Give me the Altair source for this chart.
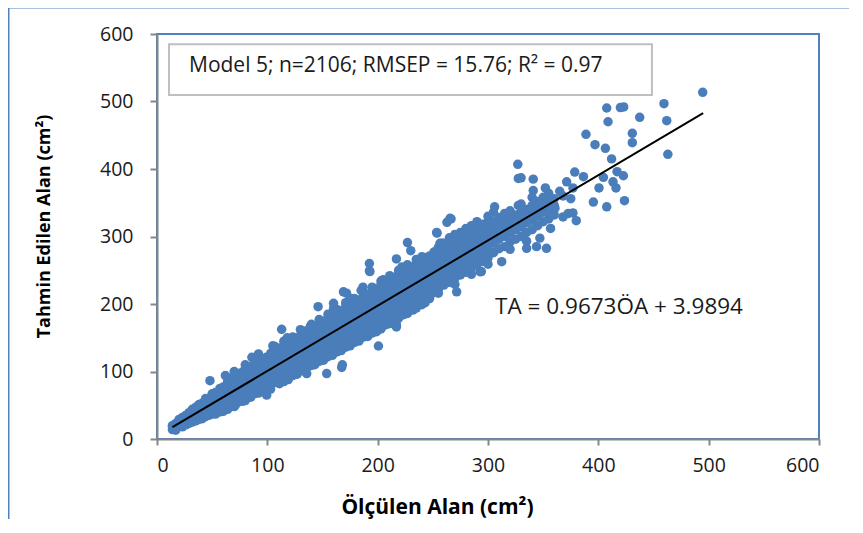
import altair as alt
import pandas as pd

# ---- scatter data (Ölçülen Alan vs Tahmin Edilen Alan) ----
seg1_x = [14, 17, 20, 23, 26, 29, 32, 35, 38, 41, 44, 47, 50]
seg1_y = [[14, 18, 20], [16, 21, 23, 13], [19, 22, 27, 29], [20, 25, 28, 32, 18],
          [24, 27, 32, 35, 21], [25, 31, 34, 39, 23], [28, 32, 38, 41, 25, 44],
          [29, 35, 39, 45, 27, 47], [32, 36, 42, 46, 51, 29], [33, 40, 44, 50, 53, 30],
          [37, 41, 48, 52, 58, 33, 60], [38, 45, 50, 56, 60, 35], [41, 46, 53, 58, 64, 37, 67]]

seg2_x = [53, 57, 60, 64, 67, 71, 74, 78, 81, 85, 88, 92, 95, 99]
seg2_y = [[42, 46, 54, 58, 66, 69, 37], [43, 52, 56, 64, 68, 75, 40],
          [47, 52, 61, 65, 73, 77, 44], [47, 56, 61, 69, 74, 82, 85, 44],
          [52, 57, 66, 70, 79, 83, 48, 90], [53, 62, 67, 76, 81, 89, 50, 92],
          [58, 63, 72, 77, 86, 90, 55, 97], [59, 68, 73, 82, 87, 96, 56, 100],
          [63, 69, 78, 83, 92, 97, 61, 105], [65, 74, 80, 89, 94, 103, 62, 107],
          [69, 75, 85, 90, 99, 104, 67, 112], [71, 81, 86, 96, 101, 110, 68, 114],
          [76, 82, 91, 97, 106, 111, 73, 119], [77, 87, 93, 103, 108, 117, 74, 121]]

seg3_x = [103, 107, 111, 115, 119, 123, 127, 131, 135, 139, 143, 147, 151,
          155, 159, 163, 167, 171, 175, 179, 183, 187, 191, 195, 199]
seg3_y = [[79, 90, 97, 105, 111, 121, 127, 74], [84, 92, 101, 106, 116, 122, 132, 137],
          [87, 94, 104, 110, 118, 128, 134, 82], [91, 98, 108, 116, 122, 130, 140, 85, 145],
          [93, 104, 110, 120, 126, 136, 142, 88], [99, 105, 116, 122, 132, 138, 148, 94, 151],
          [100, 111, 117, 128, 134, 144, 150, 96], [106, 113, 123, 130, 140, 146, 156, 101, 159],
          [107, 118, 125, 136, 142, 150, 160, 103], [113, 120, 131, 137, 147, 154, 164, 109, 167],
          [114, 125, 132, 143, 149, 159, 166, 110], [120, 127, 138, 145, 155, 161, 172, 115, 177],
          [121, 132, 139, 151, 157, 167, 174, 117], [127, 134, 145, 153, 163, 169, 180, 122, 185],
          [128, 139, 147, 159, 165, 175, 182, 124], [134, 141, 153, 161, 171, 177, 188, 129, 192],
          [135, 147, 155, 166, 173, 183, 190, 131], [141, 149, 161, 168, 179, 185, 196, 136, 202],
          [142, 154, 162, 174, 181, 191, 198, 138], [148, 156, 168, 176, 187, 193, 204, 143, 208],
          [150, 162, 170, 182, 189, 199, 206, 145], [155, 163, 176, 184, 195, 201, 212, 151, 217],
          [157, 169, 178, 190, 197, 207, 214, 152], [163, 171, 184, 192, 203, 209, 220, 158, 225],
          [164, 177, 185, 197, 205, 215, 222, 159]]

seg4_x = [203, 207, 211, 215, 219, 223, 227, 231, 235, 239, 243, 247, 251]
seg4_y = [[171, 179, 191, 199, 211, 218, 229, 163, 234], [173, 185, 193, 205, 213, 224, 231, 169],
          [179, 187, 199, 207, 219, 226, 237, 171, 242], [181, 193, 201, 213, 221, 232, 239, 177],
          [186, 195, 207, 215, 227, 234, 245, 179, 250], [188, 200, 209, 221, 229, 240, 247, 184],
          [194, 202, 214, 223, 235, 242, 253, 186, 258], [196, 208, 216, 229, 237, 248, 255, 192],
          [202, 210, 222, 230, 242, 250, 261, 194, 266], [203, 216, 224, 236, 244, 256, 263, 200],
          [209, 217, 230, 238, 250, 258, 269, 202], [211, 223, 232, 244, 252, 264, 271, 208],
          [217, 225, 238, 246, 258, 266, 277]]

seg5_x = [255, 260, 265, 270, 275, 280, 285, 290, 295, 300]
seg5_y = [[222, 234, 245, 255, 265, 275, 284], [228, 240, 250, 260, 270, 281, 290],
          [232, 245, 256, 266, 276, 286, 298], [238, 250, 261, 271, 282, 292, 303],
          [243, 256, 267, 276, 287, 297], [247, 260, 272, 281, 292, 302, 312],
          [253, 265, 277, 287, 297, 306], [258, 270, 283, 292, 302, 313, 322],
          [263, 276, 288, 297, 307, 318], [268, 281, 293, 302, 312, 322, 330]]

seg6_x = [305, 310, 315, 320, 325, 330, 335, 340, 345, 350, 355, 360]
seg6_y = [[276, 290, 300, 310, 322, 336], [282, 296, 306, 316, 328], [285, 300, 312, 322, 334],
          [292, 305, 316, 326, 338], [296, 310, 320, 332], [300, 314, 325, 336, 348],
          [306, 320, 330, 340], [310, 324, 336, 346, 358], [316, 330, 342, 352],
          [322, 336, 348, 358], [326, 340, 352, 364], [332, 346, 356]]

# ragged edge points of the band
edge_x = [62, 70, 80, 86, 92, 105, 118, 130, 140, 160, 175, 185, 205, 222, 240, 258, 275, 285,
          60, 70, 80, 95, 110, 125, 140, 150, 165, 180, 195, 210, 225, 240, 255, 270, 285, 300, 320, 335]
edge_y = [94, 100, 110, 121, 126, 138, 150, 162, 170, 193, 208, 220, 236, 255, 270, 290, 306, 316,
          41, 48, 57, 71, 83, 96, 109, 117, 131, 146, 157, 171, 186, 199, 216, 229, 244, 259, 281, 293]

out_x = [494.6, 407.6, 420, 423, 459.5, 408.8, 437.5, 462, 388.8, 430.8, 397, 406.4, 430.8,
         412, 463, 378.6, 371.3, 386.5, 404.6, 417, 422.7, 413.3, 400.6, 416, 395.5, 407.6,
         423.7, 365, 377, 368, 375, 327, 327.5, 330, 341, 341, 352, 348.6, 360.7, 372.6, 377,
         380, 368, 356, 356.7, 338, 327.5, 336.6, 306, 265.6, 266.5, 262.8, 253.8, 253.5, 347,
         353, 344, 335, 312.4, 292.8, 294, 227, 230, 217, 192.5, 192.5, 256.5, 247.4, 271.6,
         217, 169, 200.7, 217, 217, 167.4, 168, 153.8, 135.7, 99.4, 48, 113, 146, 193, 160,
         171.8, 232, 186.7]
out_y = [513.6, 490.4, 491, 492, 496.8, 470, 476.5, 471.6, 451.4, 452.8, 436, 430.6, 439,
         415, 421.7, 395.5, 381, 388.6, 387.6, 396, 390, 381, 372, 372, 351, 344,
         353, 367, 372, 360, 356, 407, 386, 387, 385, 368, 372, 353, 342, 334, 335,
         323.5, 329, 332, 312, 339, 346, 337, 344, 327, 326, 321, 305, 306, 297.6,
         282.5, 285, 282.5, 262.7, 247.9, 248, 291, 279, 266.7, 260, 249, 290, 213, 218,
         169, 218, 137.8, 166, 176, 106, 110, 97, 97, 65, 86.4, 162.5, 196, 248, 201,
         216, 191, 225]

# regression line TA = 0.9673 ÖA + 3.9894, end points
line_x = [14, 495]
line_y = [17.5, 482.8]

# annotation box and texts
box_x = [10.9]
box_x2 = [448.6]
box_y = [509.6]
box_y2 = [585]
stat_text = ["Model 5; n=2106; RMSEP = 15.76; R\u00b2 = 0.97"]
stat_pos = [29, 553]
eq_text = ["TA = 0.9673\u00d6A + 3.9894"]
eq_pos = [306.4, 196]

rows = []
for xs, ys in [(seg1_x, seg1_y), (seg2_x, seg2_y), (seg3_x, seg3_y),
               (seg4_x, seg4_y), (seg5_x, seg5_y), (seg6_x, seg6_y)]:
    for xv, col in zip(xs, ys):
        for yv in col:
            rows.append({"x": xv, "y": yv})
for xv, yv in zip(edge_x, edge_y):
    rows.append({"x": xv, "y": yv})
for xv, yv in zip(out_x, out_y):
    rows.append({"x": xv, "y": yv})
pts = pd.DataFrame(rows)

xscale = alt.Scale(domain=[0, 600], nice=False)
yscale = alt.Scale(domain=[0, 600], nice=False)

xaxis = alt.Axis(values=[0, 100, 200, 300, 400, 500, 600], title="\u00d6l\u00e7\u00fclen Alan (cm\u00b2)",
                 grid=False, tickSize=6, tickWidth=2, tickColor="#868686",
                 domainColor="#868686", domainWidth=2, labelFont="Open Sans",
                 labelFontSize=19.5, labelColor="#1a1a1a", labelPadding=11,
                 titleFont="Open Sans", titleFontSize=21, titleFontWeight="bold",
                 titleColor="#000000", titleBaseline="alphabetic", titleY=74, titleX=280)
yaxis = alt.Axis(values=[0, 100, 200, 300, 400, 500, 600], title="Tahmin Edilen Alan (cm\u00b2)",
                 grid=False, tickSize=7, tickWidth=2, tickColor="#868686",
                 domainColor="#868686", domainWidth=2, labelFont="Open Sans",
                 labelFontSize=19.5, labelColor="#1a1a1a", labelPadding=17,
                 titleFont="Open Sans", titleFontSize=18, titleFontWeight="bold",
                 titleColor="#000000", titleX=-104, titleY=192)

points = alt.Chart(pts).mark_circle(size=90, opacity=1, color="#4A7EBB").encode(
    x=alt.X("x:Q", scale=xscale, axis=xaxis),
    y=alt.Y("y:Q", scale=yscale, axis=yaxis),
)

line = alt.Chart(pd.DataFrame({"x": line_x, "y": line_y})).mark_line(
    color="#000000", strokeWidth=2).encode(x="x:Q", y="y:Q")

box = alt.Chart(pd.DataFrame({"x": box_x, "x2": box_x2, "y": box_y, "y2": box_y2})).mark_rect(
    fill="white", stroke="#BFBFBF", strokeWidth=2).encode(x="x:Q", x2="x2:Q", y="y:Q", y2="y2:Q")

stat = alt.Chart(pd.DataFrame({"x": [stat_pos[0]], "y": [stat_pos[1]], "t": stat_text})).mark_text(
    align="left", baseline="middle", font="Open Sans", fontSize=21, color="#1a1a1a"
).encode(x="x:Q", y="y:Q", text="t:N")

eq = alt.Chart(pd.DataFrame({"x": [eq_pos[0]], "y": [eq_pos[1]], "t": eq_text})).mark_text(
    align="left", baseline="middle", font="Open Sans", fontSize=22.5, color="#1a1a1a"
).encode(x="x:Q", y="y:Q", text="t:N")

one = pd.DataFrame({"a": [0]})
frame_left = alt.Chart(one).mark_rule(color="#4F81BD", strokeWidth=2).encode(
    x=alt.value(-148.5), y=alt.value(-27), y2=alt.value(500))
frame_top = alt.Chart(one).mark_rule(color="#4F81BD", strokeWidth=2).encode(
    x=alt.value(-149), x2=alt.value(720), y=alt.value(-26.5))

chart = alt.layer(frame_left, frame_top, points, line, box, stat, eq).properties(
    width=662, height=405,
    autosize=alt.AutoSizeParams(type="none"),
    padding={"left": 149, "top": 26, "right": 30, "bottom": 80},
    background="white",
).configure_view(stroke="#4F81BD", strokeWidth=2)

chart.save("out.html", embed_options={"renderer": "svg", "actions": False})
